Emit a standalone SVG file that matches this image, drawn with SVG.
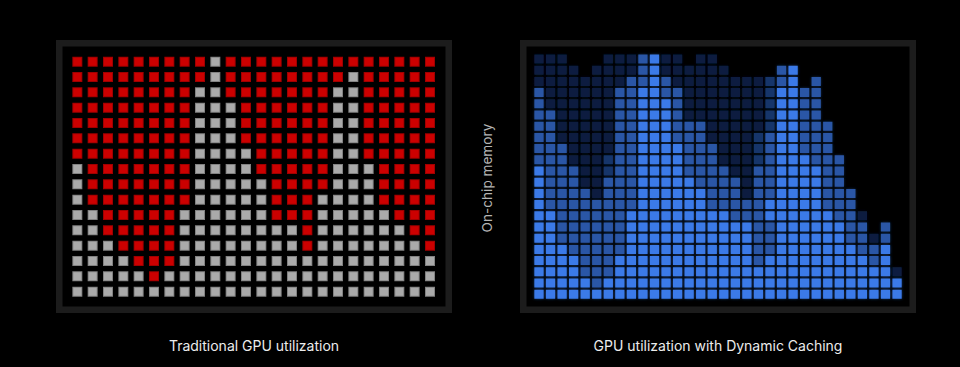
<svg xmlns="http://www.w3.org/2000/svg" width="960" height="367" viewBox="0 0 960 367">
<style>
.bg{fill:#000}
.frame{fill:#000;stroke:#1c1c1c;stroke-width:6.5}
.redB{fill:none;stroke:#a00000;stroke-width:0.6522;stroke-dasharray:0.6522 0.3478}
.redF{fill:none;stroke:#cc0000;stroke-width:0.5217;stroke-dasharray:0.5217 0.4783;stroke-dashoffset:0.9348}
.grayB{fill:none;stroke:#828282;stroke-width:0.6522;stroke-dasharray:0.6522 0.3478}
.grayF{fill:none;stroke:#aaaaaa;stroke-width:0.5217;stroke-dasharray:0.5217 0.4783;stroke-dashoffset:0.9348}
.b{fill:none;stroke-width:0.8036;stroke-dasharray:0.8052 0.1948}
.l1{stroke:#0b1f41}
.l2{stroke:#16356a}
.l3{stroke:#2b57a6}
.l5{stroke:#3b7ae8}
.label{font-family:Inter,"Liberation Sans",sans-serif;font-size:14px;fill:#ececec;text-anchor:middle}
.axis{font-family:Inter,"Liberation Sans",sans-serif;font-size:13.6px;fill:#b4b4b4;text-anchor:middle}
</style>
<defs>
<filter id="soft" x="-5%" y="-5%" width="110%" height="110%">
<feGaussianBlur in="SourceGraphic" stdDeviation="1.6" result="glow"/>
<feComponentTransfer in="glow" result="glowDim"><feFuncA type="linear" slope="0.45"/></feComponentTransfer>
<feGaussianBlur in="SourceGraphic" stdDeviation="0.5" result="sharp"/>
<feMerge><feMergeNode in="glowDim"/><feMergeNode in="sharp"/></feMerge>
</filter>
<path id="redCells" d="M0 0h9M10 0h14M0 1h9M10 1h8M19 1h5M0 2h8M10 2h7M19 2h5M0 3h8M11 3h6M19 3h5M0 4h8M11 4h6M19 4h5M0 5h8M11 5h6M19 5h5M0 6h8M12 6h5M19 6h5M1 7h7M12 7h5M20 7h4M1 8h7M13 8h4M20 8h4M1 9h7M13 9h3M20 9h4M2 10h5M13 10h3M21 10h3M2 11h5M15 11h1M22 11h2M3 12h4M15 12h1M23 12h1M4 13h3M5 14h1"/>
<path id="grayCells" d="M9 0h1M9 1h1M18 1h1M8 2h2M17 2h2M8 3h3M17 3h2M8 4h3M17 4h2M8 5h3M17 5h2M8 6h4M17 6h2M0 7h1M8 7h4M17 7h3M0 8h1M8 8h5M17 8h3M0 9h1M8 9h5M16 9h4M0 10h2M7 10h6M16 10h5M0 11h2M7 11h8M16 11h6M0 12h3M7 12h8M16 12h7M0 13h4M7 13h17M0 14h5M6 14h18M0 15h24"/>
</defs>
<rect class="bg" x="0" y="0" width="960" height="367"/>

<g id="traditional-panel">
<rect class="frame" x="59.25" y="43.25" width="389.5" height="266.5"/>
<g id="traditional-grid" transform="translate(72.33,61.67) scale(15.3333)">
<use href="#redCells" class="redB"/>
<use href="#redCells" class="redF"/>
<use href="#grayCells" class="grayB"/>
<use href="#grayCells" class="grayF"/>
</g>
</g>

<g id="dynamic-panel">
<rect class="frame" x="523.25" y="43.25" width="389.5" height="266.5"/>
<g filter="url(#soft)">
<g id="dynamic-grid" transform="translate(534.35,59) scale(11.55,11.2)">
<path class="b l1" d="M0 0h3M6 0h3M11 0h2M14 0h2M0 1h4M5 1h4M11 1h6M0 2h8M12 2h8M1 3h6M13 3h7M1 4h6M13 4h7M2 5h5M13 5h7M2 6h5M15 6h5M2 7h5M15 7h4M3 8h4M16 8h3M3 9h3M16 9h3M4 10h2M17 10h2M4 11h2M18 11h1M5 12h1M18 12h1M28 14h1M29 16h1M31 19h1"/>
<path class="b l2" d="M20 2h1M20 3h1M20 4h1M20 5h1M20 6h1M19 7h1M19 8h1M6 9h1M19 9h1M6 10h1"/>
<path class="b l3" d="M9 0h1M9 1h1M21 1h1M8 2h2M11 2h1M21 2h1M24 2h1M0 3h1M7 3h2M11 3h2M23 3h2M0 4h1M7 4h2M12 4h1M23 4h2M0 5h2M7 5h2M12 5h1M23 5h2M0 6h2M7 6h2M12 6h3M23 6h3M0 7h2M7 7h2M12 7h3M20 7h1M23 7h3M0 8h3M7 8h2M13 8h3M20 8h1M23 8h3M0 9h3M7 9h2M13 9h3M20 9h1M24 9h3M1 10h3M7 10h2M13 10h4M19 10h2M25 10h2M1 11h3M6 11h3M14 11h4M19 11h2M25 11h2M1 12h4M6 12h3M15 12h3M19 12h2M25 12h3M1 13h8M15 13h5M25 13h3M2 14h6M17 14h3M26 14h2M2 15h6M19 15h2M27 15h2M30 15h1M2 16h6M19 16h2M27 16h2M30 16h1M3 17h5M19 17h2M28 17h2M4 18h3M19 18h1M29 18h1M4 19h3M5 20h1"/>
<path class="b l5" d="M10 0h1M10 1h1M22 1h1M10 2h1M22 2h1M9 3h2M21 3h2M9 4h3M21 4h2M9 5h3M21 5h2M9 6h3M21 6h2M9 7h3M21 7h2M9 8h4M21 8h2M9 9h4M21 9h3M0 10h1M9 10h4M21 10h4M0 11h1M9 11h5M21 11h4M0 12h1M9 12h6M21 12h4M0 13h1M9 13h6M20 13h5M0 14h2M8 14h9M20 14h6M0 15h2M8 15h11M21 15h6M0 16h2M8 16h11M21 16h6M0 17h3M8 17h11M21 17h7M30 17h1M0 18h4M7 18h12M20 18h9M30 18h1M0 19h4M7 19h24M0 20h5M6 20h26M0 21h32"/>
</g>
</g>
</g>

<g id="labels">
<text class="label" x="254" y="351">Traditional GPU utilization</text>
<text class="label" x="718" y="351">GPU utilization with Dynamic Caching</text>
<text class="axis" transform="translate(492,178) rotate(-90)" x="0" y="0">On-chip memory</text>
</g>
</svg>
